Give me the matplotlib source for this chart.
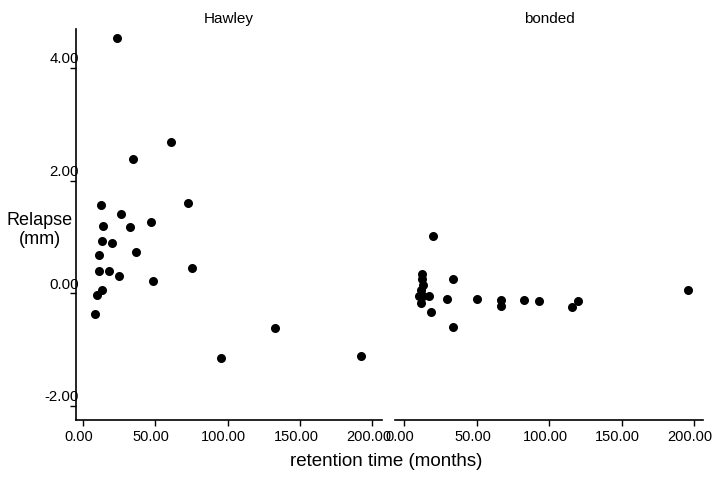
import matplotlib
matplotlib.use("Agg")
import matplotlib.pyplot as plt
from matplotlib.transforms import ScaledTranslation

plt.rcParams['font.family'] = ['Liberation Sans', 'DejaVu Sans']

# retention time (months) and relapse (mm)
hawley_time = [23.3, 60.7, 34.8, 72.5, 12.7, 26.3, 47.1, 13.6, 32.3, 13.1,
               20.1, 36.9, 11.1, 10.9, 18.0, 24.9, 48.4, 75.4, 12.9, 9.5,
               8.3, 132.4, 95.3, 192.4]
hawley_relapse = [4.53, 2.68, 2.39, 1.61, 1.57, 1.41, 1.27, 1.20, 1.17, 0.93,
                  0.89, 0.74, 0.68, 0.40, 0.40, 0.31, 0.21, 0.44, 0.06, -0.03,
                  -0.36, -0.62, -1.15, -1.11]

bonded_time = [20.0, 12.4, 12.0, 12.7, 11.3, 10.4, 13.1, 17.3, 11.3, 18.2,
               33.4, 29.3, 50.0, 33.8, 66.7, 66.7, 82.8, 92.8, 116.0, 119.9,
               195.6]
bonded_relapse = [1.01, 0.34, 0.25, 0.15, 0.06, -0.04, -0.04, -0.05, -0.18, -0.34,
                  0.25, -0.11, -0.10, -0.60, -0.12, -0.23, -0.12, -0.13, -0.24, -0.14,
                  0.05]

x_ticks = [0, 50, 100, 150, 200]
y_ticks = [-2, 0, 2, 4]

fig = plt.figure(figsize=(7.15, 4.96), dpi=100)
ax1 = fig.add_axes([0.1063, 0.1532, 0.428, 0.7883])
ax2 = fig.add_axes([0.5524, 0.1532, 0.4308, 0.7883], sharey=ax1)

panels = [(ax1, hawley_time, hawley_relapse, "Hawley", (-4.8, 206.7)),
          (ax2, bonded_time, bonded_relapse, "bonded", (-6.4, 206.0))]

for ax, xs, ys, title, xlim in panels:
    ax.plot(xs, ys, 'o', color='black', markersize=6.5, markeredgewidth=0)
    ax.set_xlim(*xlim)
    ax.set_xticks(x_ticks)
    ax.set_xticklabels(["%.2f" % t for t in x_ticks])
    ax.tick_params(axis='x', length=4.5, width=1, labelsize=10.5, pad=3)
    for lab in ax.get_xticklabels():
        lab.set_transform(lab.get_transform() + ScaledTranslation(-0.04, 0, fig.dpi_scale_trans))
    for s in ['top', 'right']:
        ax.spines[s].set_visible(False)
    ax.spines['bottom'].set_linewidth(1.2)
    ax.set_title(title, fontsize=11, pad=4)

ax1.set_ylim(-2.25, 4.69)
ax1.set_yticks(y_ticks)
ax1.set_yticklabels(["%.2f" % t for t in y_ticks])
ax1.tick_params(axis='y', length=4.5, width=1, labelsize=10.8, pad=-6.5)
ax1.spines['left'].set_linewidth(1.2)
for lab in ax1.get_yticklabels():
    lab.set_transform(lab.get_transform() + ScaledTranslation(0, 0.1, fig.dpi_scale_trans))

ax2.spines['left'].set_visible(False)
ax2.tick_params(axis='y', left=False, labelleft=False)

fig.text(40 / 715, 1 - 230 / 496, "Relapse\n(mm)", ha='center', va='center',
         fontsize=13, linespacing=1.1)
fig.text(386 / 715, 1 - 461 / 496, "retention time (months)", ha='center',
         va='center', fontsize=13.5)

fig.savefig("out.png", dpi=100)
